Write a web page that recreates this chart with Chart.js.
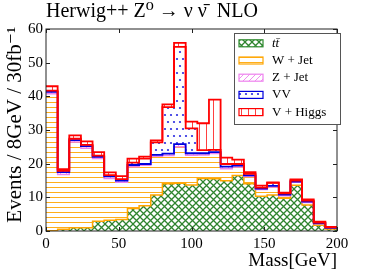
<!DOCTYPE html>
<html>
<head>
<meta charset="utf-8">
<script src="https://cdn.jsdelivr.net/npm/chart.js@4"></script>
<style>
  html, body { margin: 0; padding: 0; background: #fff; }
</style>
</head>
<body>
<canvas id="myChart" width="374" height="280"></canvas>
<script>
// bin edges in GeV (8 GeV bins)
const binEdges = [0, 8, 16, 24, 32, 40, 48, 56, 64, 72, 80, 88, 96, 104, 112, 120, 128, 136, 144, 152, 160, 168, 176, 184, 192, 200];
const seriesNames = ['tt\u0304', 'W + Jet', 'Z + Jet', 'VV', 'V + Higgs'];

// events per bin, bottom of the stack first
const ttbar   = [0.1, 0.5, 1.0, 1.0, 2.9, 3.2, 3.4, 6.7, 7.5, 10.7, 14.0, 14.2, 13.7, 15.6, 15.5, 14.9, 16.5, 14.0, 10.3, 10.7, 9.7, 13.6, 7.7, 1.7, 0.6];
const wJet    = [40.7, 16.3, 25.4, 23.6, 18.6, 12.4, 11.1, 12.4, 12.0, 11.5, 8.4, 10.8, 8.8, 7.0, 7.5, 3.6, 2.5, 2.2, 2.0, 2.4, 0.8, 0.9, 0.8, 0.5, 0.3];
const zJet    = [0.5, 0.7, 0.6, 0.6, 0.5, 0.6, 0.5, 0.5, 0.4, 0.4, 0.6, 0.8, 0.6, 0.5, 0.4, 0.6, 0.4, 0.3, 0.3, 0.3, 0.3, 0.2, 0.2, 0.1, 0.05];
const diboson = [0.4, 0.4, 0.4, 0.4, 0.4, 0.4, 0.4, 0.7, 1.6, 3.7, 13.8, 28.9, 7.4, 0.9, 0.7, 0.8, 0.5, 0.5, 0.3, 0.9, 0.4, 0.3, 0.3, 0.2, 0.1];
const vHiggs  = [1.3, 0.5, 1.0, 1.0, 1.0, 0.8, 0.9, 1.2, 0.6, 0.6, 0.8, 1.2, 2.0, 8.0, 14.9, 1.9, 1.3, 0.5, 0.6, 0.1, 0.2, 0.3, 0.4, 0.3, 0.15];

const xTickStep = 50;
const yTickStep = 10;

const serif = "'Liberation Serif', 'DejaVu Serif', serif";
const edgeColors = ['#2e8b2e', '#ffa500', '#ee82ee', '#0000dd', '#ff0000'];
const edgeWidths = [1.5, 1.5, 1.5, 1.8, 1.8];

function makePattern(w, h, draw) {
  const c = document.createElement('canvas');
  c.width = w;
  c.height = h;
  const g = c.getContext('2d');
  draw(g);
  return g.createPattern(c, 'repeat');
}

const patterns = [
  // crosshatch
  makePattern(7, 7, g => {
    g.strokeStyle = '#2f842f';
    g.lineWidth = 1.3;
    g.beginPath();
    g.moveTo(-1, -1); g.lineTo(8, 8);
    g.moveTo(-1, 8); g.lineTo(8, -1);
    g.stroke();
  }),
  // horizontal lines
  makePattern(4, 5, g => {
    g.fillStyle = 'rgba(255,165,0,0.9)';
    g.fillRect(0, 2, 4, 1);
  }),
  // diagonal lines
  makePattern(6, 6, g => {
    g.strokeStyle = 'rgba(238,130,238,0.9)';
    g.lineWidth = 1;
    g.beginPath();
    g.moveTo(-1, 7); g.lineTo(7, -1);
    g.stroke();
  }),
  // dots
  makePattern(12, 14, g => {
    g.fillStyle = '#2a2ae0';
    [[3, 3], [9, 3], [0, 10], [6, 10], [12, 10]].forEach(([x, y]) => {
      g.beginPath(); g.arc(x, y, 1.1, 0, Math.PI * 2); g.fill();
    });
  }),
  // vertical lines
  makePattern(7, 4, g => {
    g.fillStyle = 'rgba(255,0,0,0.75)';
    g.fillRect(3, 0, 1, 4);
  }),
];

// cumulative tops of the stack
const layers = [ttbar, wJet, zJet, diboson, vHiggs];
let running = ttbar.map(() => 0);
const stackTops = layers.map(vals => {
  running = running.map((r, i) => r + vals[i]);
  return running;
});

function stepPoints(tops) {
  const pts = tops.map((y, i) => ({ x: binEdges[i], y: y }));
  pts.push({ x: binEdges[binEdges.length - 1], y: tops[tops.length - 1] });
  return pts;
}

const frameAndTicks = {
  id: 'frameAndTicks',
  afterDatasetsDraw(chart) {
    const { ctx, chartArea: a, scales: { x, y } } = chart;
    ctx.save();
    ctx.strokeStyle = '#222';
    ctx.lineWidth = 1;
    ctx.beginPath();
    x.ticks.forEach(t => {
      const px = Math.round(x.getPixelForValue(t.value)) + 0.5;
      ctx.moveTo(px, a.bottom); ctx.lineTo(px, a.bottom - 4);
      ctx.moveTo(px, a.top); ctx.lineTo(px, a.top + 4);
    });
    y.ticks.forEach(t => {
      const py = Math.round(y.getPixelForValue(t.value)) + 0.5;
      ctx.moveTo(a.left, py); ctx.lineTo(a.left + 4, py);
      ctx.moveTo(a.right, py); ctx.lineTo(a.right - 4, py);
    });
    ctx.stroke();
    ctx.strokeRect(a.left, a.top, a.right - a.left, a.bottom - a.top);
    ctx.restore();
  }
};

const boxLegend = {
  id: 'boxLegend',
  afterDraw(chart) {
    const { ctx, chartArea: a } = chart;
    const x0 = a.right - 103, y0 = a.top + 4, w = 106, h = 91;
    ctx.save();
    ctx.fillStyle = '#fff';
    ctx.fillRect(x0, y0, w, h);
    ctx.strokeStyle = '#555';
    ctx.lineWidth = 1;
    ctx.strokeRect(x0 + 0.5, y0 + 0.5, w, h);
    seriesNames.forEach((name, k) => {
      const cy = y0 + 10.3 + k * 17.2;
      ctx.fillStyle = patterns[k];
      ctx.fillRect(x0 + 5, cy - 3.5, 24, 7);
      ctx.strokeStyle = edgeColors[k];
      ctx.lineWidth = 1.2;
      ctx.strokeRect(x0 + 5, cy - 3.5, 24, 7);
      ctx.fillStyle = '#000';
      ctx.textBaseline = 'middle';
      ctx.font = (k === 0 ? 'italic ' : '') + '13px ' + serif;
      ctx.fillText(name, x0 + 38, cy);
    });
    ctx.restore();
  }
};

const ctx = document.getElementById('myChart');

new Chart(ctx, {
  type: 'line',
  data: {
    datasets: layers.map((vals, k) => ({
      label: seriesNames[k],
      data: stepPoints(stackTops[k]),
      stepped: true,
      fill: k === 0 ? 'origin' : '-1',
      backgroundColor: patterns[k],
      // the visible edge between two layers takes the colour of the layer above
      borderColor: edgeColors[Math.min(k + 1, 4)],
      borderWidth: edgeWidths[Math.min(k + 1, 4)],
      pointRadius: 0,
      order: 4 - k,
    })),
  },
  options: {
    responsive: false,
    animation: false,
    devicePixelRatio: 1,
    layout: { padding: { left: 0, right: 37, top: 0, bottom: 0 } },
    plugins: {
      legend: { display: false },
      tooltip: { enabled: false },
      filler: { drawTime: 'beforeDatasetsDraw' },
      title: {
        display: true,
        text: 'Herwig++ Z\u2070 \u2192 \u03bd \u03bd\u0304\u2002NLO',
        align: 'start',
        fullSize: false,
        color: '#000',
        font: { family: serif, size: 20, weight: 'normal' },
        padding: { top: 0, bottom: 5 },
      },
    },
    scales: {
      x: {
        type: 'linear',
        min: 0,
        max: 200,
        ticks: { stepSize: xTickStep, color: '#000', font: { family: serif, size: 15 }, padding: 4, maxRotation: 0 },
        grid: { drawOnChartArea: false, drawTicks: false },
        border: { display: false },
        title: { display: true, text: 'Mass[GeV]', align: 'end', color: '#000', font: { family: serif, size: 19 }, padding: { top: 0, bottom: 8 } },
        afterFit(scale) { scale.height = 49; },
      },
      y: {
        min: 0,
        max: 60,
        ticks: { stepSize: yTickStep, color: '#000', font: { family: serif, size: 15 }, padding: 3 },
        grid: { drawOnChartArea: false, drawTicks: false },
        border: { display: false },
        title: { display: true, text: '\u2002Events / 8GeV / 30fb\u207b\u00b9', color: '#000', font: { family: serif, size: 21 }, padding: { top: 3, bottom: 0 } },
        afterFit(scale) { scale.width = 46; },
      },
    },
  },
  plugins: [frameAndTicks, boxLegend],
});
</script>
</body>
</html>
